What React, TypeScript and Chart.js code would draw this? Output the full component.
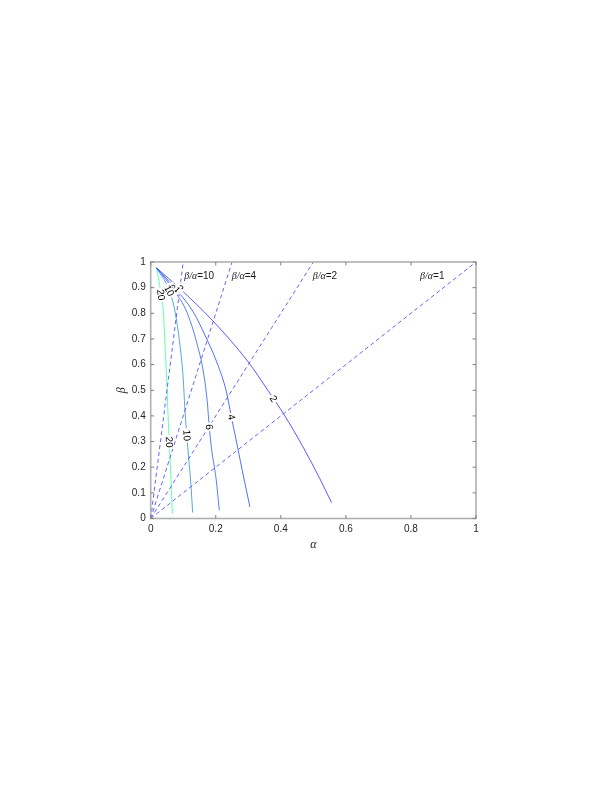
import React, { useEffect, useRef } from 'react';
import { Chart, registerables } from 'chart.js';

Chart.register(...registerables);

// ---- data ----
const contourLevels = [2, 4, 6, 10, 20];

const alphaLevel2 = [0.018, 0.09, 0.19, 0.3, 0.36, 0.41, 0.47, 0.52, 0.556];
const betaLevel2 = [0.977, 0.896, 0.772, 0.61, 0.5, 0.405, 0.275, 0.155, 0.062];

const alphaLevel4 = [0.018, 0.08, 0.131, 0.167, 0.203, 0.233, 0.247, 0.262, 0.281, 0.305];
const betaLevel4 = [0.977, 0.89, 0.805, 0.714, 0.61, 0.493, 0.402, 0.31, 0.19, 0.045];

const alphaLevel6 = [0.018, 0.075, 0.111, 0.141, 0.162, 0.174, 0.18, 0.187, 0.201, 0.211];
const betaLevel6 = [0.977, 0.883, 0.805, 0.688, 0.571, 0.454, 0.357, 0.272, 0.155, 0.032];

const alphaLevel10 = [0.018, 0.059, 0.075, 0.09, 0.1, 0.105, 0.111, 0.117, 0.123, 0.129];
const betaLevel10 = [0.977, 0.883, 0.805, 0.675, 0.545, 0.428, 0.324, 0.233, 0.142, 0.023];

const alphaLevel20 = [0.018, 0.03, 0.039, 0.044, 0.049, 0.053, 0.057, 0.061, 0.0665];
const betaLevel20 = [0.977, 0.89, 0.805, 0.675, 0.545, 0.415, 0.298, 0.194, 0.019];

const ratioValues = [10, 4, 2, 1];
const ratioLabelTexts = ['=10', '=4', '=2', '=1'];
const ratioLabelAlpha = [0.103, 0.249, 0.498, 0.828];
const ratioLabelBeta = [0.945, 0.945, 0.945, 0.945];

// contour label placements (level index + beta where the label sits)
const labelLevelIndex = [0, 1, 2, 3, 4, 0, 1, 2, 3, 4];
const labelBeta = [0.467, 0.395, 0.357, 0.324, 0.298, 0.896, 0.893, 0.9, 0.888, 0.872];

const xTickValues = [0, 0.2, 0.4, 0.6, 0.8, 1];
const xTickLabels = ['0', '0.2', '0.4', '0.6', '0.8', '1'];
const yTickValues = [0, 0.1, 0.2, 0.3, 0.4, 0.5, 0.6, 0.7, 0.8, 0.9, 1];
const yTickLabels = ['0', '0.1', '0.2', '0.3', '0.4', '0.5', '0.6', '0.7', '0.8', '0.9', '1'];

// ---- styles ----
const contourColors = ['rgb(60,60,255)', 'rgb(55,85,245)', 'rgb(55,105,235)', 'rgb(55,150,215)', 'rgb(70,255,160)'];
const ratioColor = 'rgb(60,60,255)';

const curveAlphas = [alphaLevel2, alphaLevel4, alphaLevel6, alphaLevel10, alphaLevel20];
const curveBetas = [betaLevel2, betaLevel4, betaLevel6, betaLevel10, betaLevel20];

const annotPlugin = {
  id: 'annot',
  afterDatasetsDraw(chart: any) {
    const { ctx, scales } = chart;
    const xs = scales.x;
    const ys = scales.y;
    ctx.save();
    ctx.font = '10px "Liberation Sans", Arial, sans-serif';
    ctx.textAlign = 'center';
    ctx.textBaseline = 'middle';
    labelLevelIndex.forEach((li, k) => {
      const a = curveAlphas[li];
      const b = curveBetas[li];
      const target = labelBeta[k];
      for (let i = 0; i < a.length - 1; i++) {
        if ((b[i] - target) * (b[i + 1] - target) <= 0) {
          const t = (target - b[i]) / (b[i + 1] - b[i]);
          const av = a[i] + t * (a[i + 1] - a[i]);
          const px = xs.getPixelForValue(av);
          const py = ys.getPixelForValue(target);
          const dx = xs.getPixelForValue(a[i + 1]) - xs.getPixelForValue(a[i]);
          const dy = ys.getPixelForValue(b[i + 1]) - ys.getPixelForValue(b[i]);
          let ang = Math.atan2(dy, dx);
          if (ang > Math.PI / 2) ang -= Math.PI;
          if (ang < -Math.PI / 2) ang += Math.PI;
          const txt = String(contourLevels[li]);
          const w = ctx.measureText(txt).width;
          ctx.save();
          ctx.translate(px, py);
          ctx.rotate(ang);
          ctx.fillStyle = '#ffffff';
          ctx.fillRect(-w / 2 - 1.5, -4.5, w + 3, 9);
          ctx.fillStyle = '#000000';
          ctx.fillText(txt, 0, 0.5);
          ctx.restore();
          break;
        }
      }
    });
    ratioValues.forEach((r, k) => {
      const px = xs.getPixelForValue(ratioLabelAlpha[k]);
      const py = ys.getPixelForValue(ratioLabelBeta[k]);
      ctx.textAlign = 'left';
      ctx.textBaseline = 'middle';
      ctx.fillStyle = '#1a1a1a';
      ctx.font = 'italic 10px "Liberation Serif", "DejaVu Serif", serif';
      const g = '\u03b2/\u03b1';
      ctx.fillText(g, px, py);
      const gw = ctx.measureText(g).width;
      ctx.font = '10px "Liberation Sans", Arial, sans-serif';
      ctx.fillText(ratioLabelTexts[k], px + gw, py);
    });
    ctx.restore();
  },
  afterDraw(chart: any) {
    const { ctx, chartArea, scales } = chart;
    const xs = scales.x;
    const ys = scales.y;
    const { left, right, top, bottom } = chartArea;
    ctx.save();
    ctx.strokeStyle = '#b0b0b0';
    ctx.lineWidth = 1.6;
    ctx.strokeRect(left, top, right - left, bottom - top);
    ctx.strokeStyle = '#808080';
    ctx.lineWidth = 1;
    const tl = 3.5;
    ctx.beginPath();
    xTickValues.forEach((v) => {
      const p = xs.getPixelForValue(v);
      ctx.moveTo(p, bottom);
      ctx.lineTo(p, bottom - tl);
      ctx.moveTo(p, top);
      ctx.lineTo(p, top + tl);
    });
    yTickValues.forEach((v) => {
      const p = ys.getPixelForValue(v);
      ctx.moveTo(left, p);
      ctx.lineTo(left + tl, p);
      ctx.moveTo(right, p);
      ctx.lineTo(right - tl, p);
    });
    ctx.stroke();
    ctx.restore();
  },
};

export default function App() {
  const ref = useRef<HTMLCanvasElement | null>(null);
  useEffect(() => {
    if (!ref.current) return;
    const contourSets = contourLevels.map((lv, i) => ({
      label: 'level ' + lv,
      data: curveAlphas[i].map((a, j) => ({ x: a, y: curveBetas[i][j] })),
      showLine: true,
      borderColor: contourColors[i],
      backgroundColor: contourColors[i],
      borderWidth: 0.85,
      pointRadius: 0,
      fill: false,
      cubicInterpolationMode: 'monotone',
    }));
    const ratioSets = ratioValues.map((r) => ({
      label: 'ratio ' + r,
      data: [
        { x: 0, y: 0 },
        { x: Math.min(1, 1 / r), y: Math.min(1, r) },
      ],
      showLine: true,
      borderColor: ratioColor,
      backgroundColor: ratioColor,
      borderWidth: 0.8,
      borderDash: [4, 3],
      pointRadius: 0,
      fill: false,
    }));
    const chart = new Chart(ref.current, {
      type: 'scatter',
      data: { datasets: [...ratioSets, ...contourSets] as any },
      options: {
        responsive: false,
        animation: false,
        devicePixelRatio: 1,
        layout: { padding: { left: 100.7, right: 136, top: 262, bottom: 233.5 } },
        plugins: { legend: { display: false }, tooltip: { enabled: false } },
        scales: {
          x: {
            type: 'linear',
            min: 0,
            max: 1,
            grid: { display: false, drawTicks: false },
            border: { display: false },
            afterBuildTicks: (s: any) => {
              s.ticks = xTickValues.map((v) => ({ value: v }));
            },
            afterFit: (s: any) => {
              s.height = 40;
            },
            ticks: {
              padding: 5,
              maxRotation: 0,
              autoSkip: false,
              color: '#262626',
              font: { family: '"Liberation Sans", Arial, sans-serif', size: 10 },
              callback: (_v: any, i: number) => xTickLabels[i],
            },
            title: {
              display: true,
              text: '\u03b1',
              color: '#262626',
              font: { family: '"Liberation Serif", "DejaVu Serif", serif', size: 12, style: 'italic' },
              padding: { top: 0, bottom: 6.3 },
            },
          },
          y: {
            type: 'linear',
            min: 0,
            max: 1,
            grid: { display: false, drawTicks: false },
            border: { display: false },
            afterBuildTicks: (s: any) => {
              s.ticks = yTickValues.map((v) => ({ value: v }));
            },
            afterFit: (s: any) => {
              s.width = 50;
            },
            ticks: {
              padding: 5,
              autoSkip: false,
              color: '#262626',
              font: { family: '"Liberation Sans", Arial, sans-serif', size: 10 },
              callback: (_v: any, i: number) => yTickLabels[i],
            },
            title: {
              display: true,
              text: '\u03b2',
              color: '#262626',
              font: { family: '"Liberation Serif", "DejaVu Serif", serif', size: 12, style: 'italic' },
              padding: { top: 13.8, bottom: 0 },
            },
          },
        },
      },
      plugins: [annotPlugin],
    } as any);
    return () => chart.destroy();
  }, []);
  return (
    <div style={{ position: 'absolute', left: 0, top: 0, width: 612, height: 792 }}>
      <canvas ref={ref} width={612} height={792} style={{ width: 612, height: 792 }} />
    </div>
  );
}
